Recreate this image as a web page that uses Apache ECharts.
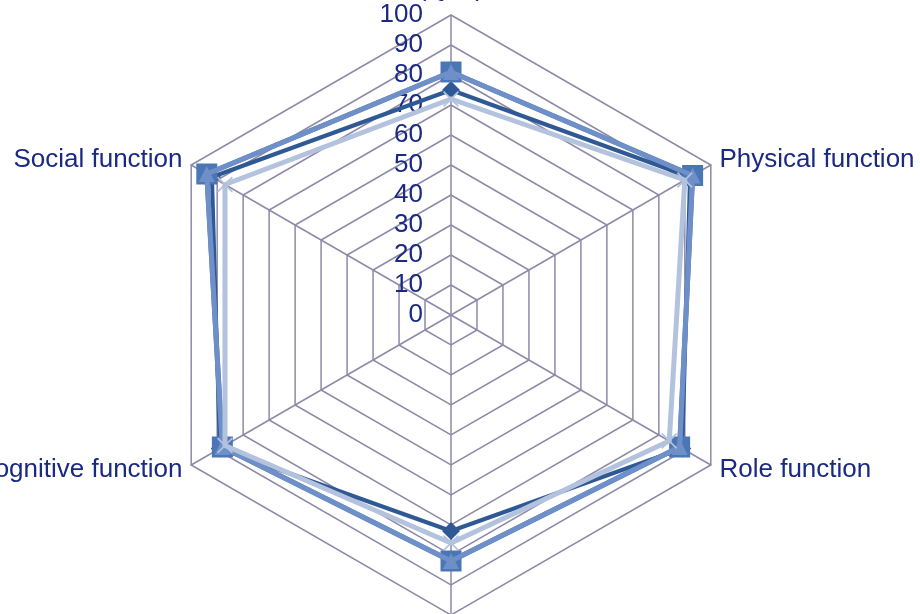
<!DOCTYPE html>
<html>
<head>
<meta charset="utf-8">
<script src="https://cdn.jsdelivr.net/npm/echarts@6/dist/echarts.min.js"></script>
<style>
  html, body { margin: 0; padding: 0; background: #fff; }
  #main { width: 920px; height: 614px; }
</style>
</head>
<body>
<div id="main"></div>
<script>
// indicator order: top first, then counter-clockwise (echarts radar)
const dims = ['Global health\n(QoL)', 'Social function', 'Cognitive function',
  'Emotional function', 'Role function', 'Physical function'];
const seriesNames = ['Group A', 'Group B', 'Group B ', 'Group C'];
// values in same order as dims
const valuesA = [75, 92, 89, 72, 89, 92];   // dark navy, diamond
const valuesB = [81, 94, 88, 82, 88, 93];   // square
const valuesC = [81, 94, 88, 82, 88, 93];   // triangle over square
const valuesD = [72, 87, 87, 76, 84, 90];   // light, cross
const ticks = [0, 10, 20, 30, 40, 50, 60, 70, 80, 90, 100];

const gridColor = '#8d8aa8';
const textColor = '#1a2984';
const crossPath = 'path://M0,1.5 L1.5,0 L10,8.5 L18.5,0 L20,1.5 L11.5,10 L20,18.5 L18.5,20 L10,11.5 L1.5,20 L0,18.5 L8.5,10 Z';

const chart = echarts.init(document.getElementById('main'));

const indicator = dims.map(function (d, i) {
  const ind = { name: d, min: ticks[0], max: ticks[ticks.length - 1] };
  if (i === 0) ind.axisLabel = { show: true };
  return ind;
});

function line(name, data, color, width, symbol, size, z) {
  return {
    type: 'radar',
    name: name,
    z: z,
    symbol: symbol,
    symbolSize: size,
    lineStyle: { color: color, width: width, join: 'round', cap: 'round' },
    itemStyle: { color: color },
    data: [{ value: data, name: name }]
  };
}

chart.setOption({
  backgroundColor: '#fff',
  animation: false,
  radar: {
    center: [451, 315],
    radius: 300,
    startAngle: 90,
    shape: 'polygon',
    splitNumber: 10,
    indicator: indicator,
    axisName: {
      color: textColor,
      fontSize: 26,
      fontFamily: 'Liberation Sans, Arial, sans-serif',
      padding: [4, 0, 0, 0]
    },
    nameGap: 10,
    axisLine: { lineStyle: { color: gridColor, width: 1.5 } },
    splitLine: { lineStyle: { color: gridColor, width: 1.5 } },
    splitArea: { show: false },
    axisTick: { show: false },
    axisLabel: {
      show: false,
      color: textColor,
      fontSize: 26,
      fontFamily: 'Liberation Sans, Arial, sans-serif',
      margin: 28,
      padding: [4, 0, 0, 0]
    }
  },
  series: [
    line(seriesNames[0], valuesA, '#2f5994', 4, 'diamond', 18, 2),
    line(seriesNames[1], valuesB, '#4b76b6', 5, 'rect', 21, 3),
    line(seriesNames[2], valuesC, '#6e8fc8', 5, 'triangle', 16, 4),
    line(seriesNames[3], valuesD, '#b3c2dd', 5, crossPath, 16, 5)
  ]
});
</script>
</body>
</html>
